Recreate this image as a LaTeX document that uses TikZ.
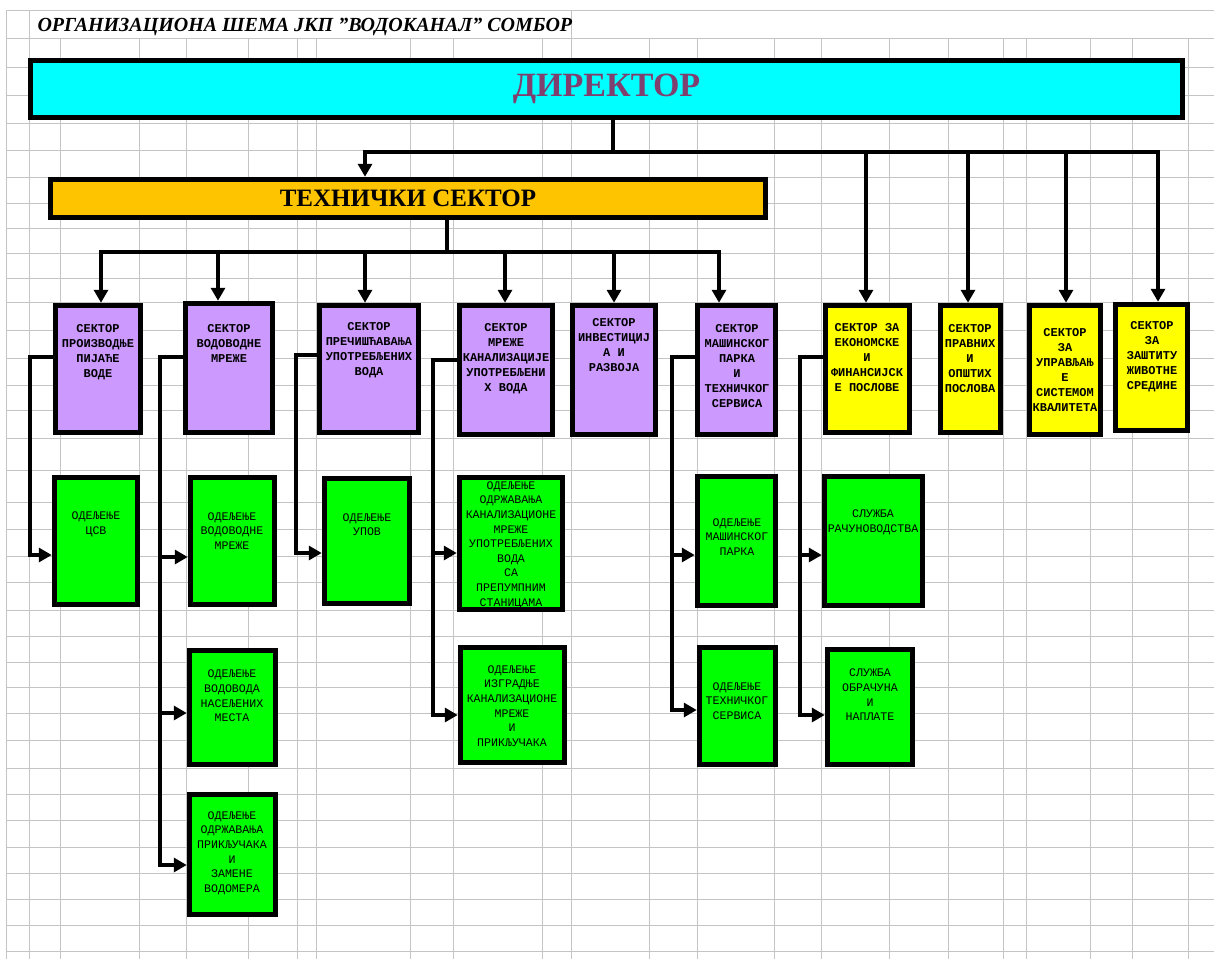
\documentclass[tikz,border=0pt]{standalone}
\usepackage{fontspec}
\setmainfont{Liberation Serif}
\newfontfamily\boxfont{Liberation Mono}
\usetikzlibrary{arrows.meta}
\definecolor{dircyan}{HTML}{00FFFF}
\definecolor{dirtext}{HTML}{80406F}
\definecolor{techorange}{HTML}{FFC400}
\definecolor{seclilac}{HTML}{CC99FF}
\definecolor{secyellow}{HTML}{FFFF00}
\definecolor{deptgreen}{HTML}{00FF00}
\definecolor{gridgray}{HTML}{C4C4C4}
\begin{document}
\begin{tikzpicture}[x=1pt,y=-1pt,
  gridline/.style={draw=gridgray,line width=0.9pt},
  box/.style={rectangle,draw=black,line width=5.5pt,inner sep=0pt},
  pbox/.style={box,fill=seclilac},
  ybox/.style={box,fill=secyellow},
  gbox/.style={box,fill=deptgreen},
  ptxt/.style={align=center,inner sep=0pt,font=\boxfont\bfseries\fontsize{12}{15}\selectfont},
  gtxt/.style={align=center,inner sep=0pt,font=\boxfont\fontsize{11.6}{14.6}\selectfont},
  link/.style={draw=black,line width=4.8pt},
  bus/.style={link,line cap=rect},
  >={Triangle[length=13pt,width=14pt]}]
\useasboundingbox (0,0) rectangle (1214,959);
\fill[white] (0,0) rectangle (1214,959);
% spreadsheet grid
\foreach \x in {60,139,186,248,297,316,410,453,542,649,697,774,821,889,948,1003,1026,1090,1132,1188}
  \draw[gridline] (\x,38) -- (\x,959);
\foreach \x in {6,29,571}
  \draw[gridline] (\x,10) -- (\x,959);
\foreach \y in {10,38,67,95,123,150,177,203,228,253,278,302,330,358,385,410,438,470,502,529,556,582,610,636,662,687,713,740,768,794,820,847,873,899,925,951}
  \draw[gridline] (6,\y) -- (1214,\y);

\node[anchor=west,font=\bfseries\itshape\fontsize{20}{24}\selectfont] (title) at (34,27) {ОРГАНИЗАЦИОНА ШЕМА ЈКП \char34 ВОДОКАНАЛ\char34{} СОМБОР};

\node[box,fill=dircyan,minimum width=1152,minimum height=57,text=dirtext,font=\bfseries\fontsize{34}{40}\selectfont] (dir) at (606.5,89) {ДИРЕКТОР};
\node[box,fill=techorange,minimum width=715,minimum height=38,font=\bfseries\fontsize{25}{30}\selectfont] (tech) at (408,198.5) {ТЕХНИЧКИ СЕКТОР};

% sectors
\node[pbox,minimum width=85,minimum height=127] (s1) at (98,369) {};
\node[pbox,minimum width=87,minimum height=129] (s2) at (229,368) {};
\node[pbox,minimum width=99,minimum height=127] (s3) at (369,369) {};
\node[pbox,minimum width=93,minimum height=129] (s4) at (506,370) {};
\node[pbox,minimum width=83,minimum height=129] (s5) at (614,370) {};
\node[pbox,minimum width=78,minimum height=129] (s6) at (736.5,370) {};
\node[ybox,minimum width=84,minimum height=127] (y1) at (867.5,369) {};
\node[ybox,minimum width=60,minimum height=127] (y2) at (970.5,369) {};
\node[ybox,minimum width=71,minimum height=129] (y3) at (1065,370) {};
\node[ybox,minimum width=72,minimum height=126] (y4) at (1151.5,367.5) {};

\node[ptxt] (s1t) at (98,352.5) {СЕКТОР\\ПРОИЗВОДЊЕ\\ПИЈАЋЕ\\ВОДЕ};
\node[ptxt] (s2t) at (229,343) {СЕКТОР\\ВОДОВОДНЕ\\МРЕЖЕ};
\node[ptxt] (s3t) at (369,350) {СЕКТОР\\ПРЕЧИШЋАВАЊА\\УПОТРЕБЉЕНИХ\\ВОДА};
\node[ptxt] (s4t) at (506,359) {СЕКТОР\\МРЕЖЕ\\КАНАЛИЗАЦИЈЕ\\УПОТРЕБЉЕНИ\\Х ВОДА};
\node[ptxt] (s5t) at (614,345) {СЕКТОР\\ИНВЕСТИЦИЈ\\А И\\РАЗВОЈА};
\node[ptxt] (s6t) at (737,366) {СЕКТОР\\МАШИНСКОГ\\ПАРКА\\И\\ТЕХНИЧКОГ\\СЕРВИСА};
\node[ptxt] (y1t) at (867,358) {СЕКТОР ЗА\\ЕКОНОМСКЕ\\И\\ФИНАНСИЈСК\\Е ПОСЛОВЕ};
\node[ptxt] (y2t) at (970,359) {СЕКТОР\\ПРАВНИХ\\И\\ОПШТИХ\\ПОСЛОВА};
\node[ptxt] (y3t) at (1065,370) {СЕКТОР\\ЗА\\УПРАВЉАЊ\\Е\\СИСТЕМОМ\\КВАЛИТЕТА};
\node[ptxt] (y4t) at (1152,357) {СЕКТОР\\ЗА\\ЗАШТИТУ\\ЖИВОТНЕ\\СРЕДИНЕ};

% departments
\node[gbox,minimum width=83,minimum height=127] (g1) at (96,541) {};
\node[gbox,minimum width=84,minimum height=127] (g2) at (232.5,541) {};
\node[gbox,minimum width=85,minimum height=125] (g3) at (367,541) {};
\node[gbox,minimum width=86,minimum height=114] (g4) at (232.5,707.5) {};
\node[gbox,minimum width=86,minimum height=120] (g5) at (232.5,854.5) {};
\node[gbox,minimum width=103,minimum height=132] (g6) at (511,543.5) {};
\node[gbox,minimum width=104,minimum height=115] (g7) at (512.5,705) {};
\node[gbox,minimum width=78,minimum height=129] (g8) at (736.5,541) {};
\node[gbox,minimum width=76,minimum height=117] (g9) at (737.5,706) {};
\node[gbox,minimum width=98,minimum height=129] (g10) at (873.5,541) {};
\node[gbox,minimum width=85,minimum height=115] (g11) at (870,707) {};

\node[gtxt] (g1t) at (96,524.5) {ОДЕЉЕЊЕ\\ЦСВ};
\node[gtxt] (g2t) at (232,531) {ОДЕЉЕЊЕ\\ВОДОВОДНЕ\\МРЕЖЕ};
\node[gtxt] (g3t) at (367,524.5) {ОДЕЉЕЊЕ\\УПОВ};
\node[gtxt] (g4t) at (232,696) {ОДЕЉЕЊЕ\\ВОДОВОДА\\НАСЕЉЕНИХ\\МЕСТА};
\node[gtxt] (g5t) at (232,853) {ОДЕЉЕЊЕ\\ОДРЖАВАЊА\\ПРИКЉУЧАКА\\И\\ЗАМЕНЕ\\ВОДОМЕРА};
\node[gtxt] (g6t) at (511,545) {ОДЕЉЕЊЕ\\ОДРЖАВАЊА\\КАНАЛИЗАЦИОНЕ\\МРЕЖЕ\\УПОТРЕБЉЕНИХ\\ВОДА\\СА\\ПРЕПУМПНИМ\\СТАНИЦАМА};
\node[gtxt] (g7t) at (512,706) {ОДЕЉЕЊЕ\\ИЗГРАДЊЕ\\КАНАЛИЗАЦИОНЕ\\МРЕЖЕ\\И\\ПРИКЉУЧАКА};
\node[gtxt] (g8t) at (737,537) {ОДЕЉЕЊЕ\\МАШИНСКОГ\\ПАРКА};
\node[gtxt] (g9t) at (737,701) {ОДЕЉЕЊЕ\\ТЕХНИЧКОГ\\СЕРВИСА};
\node[gtxt] (g10t) at (873,522) {СЛУЖБА\\РАЧУНОВОДСТВА};
\node[gtxt] (g11t) at (870,695) {СЛУЖБА\\ОБРАЧУНА\\И\\НАПЛАТЕ};

% director -> sectors
\coordinate (dj) at (613,152);
\coordinate (d-l) at (365,152);
\coordinate (d-r) at (1158,152);
\draw[link] (dir.south -| dj) -- (dj);
\draw[bus] (d-l) -- (d-r);
\draw[link,->] (d-l) -- (d-l |- tech.north);
\foreach \x/\n in {866/y1,968/y2,1066/y3,1158/y4}{
  \coordinate (d-\n) at (\x,152);
  \draw[link,->] (d-\n) -- (d-\n |- \n.north);
}

% technical sector -> sectors
\coordinate (tj) at (447,252);
\coordinate (t-l) at (101,252);
\coordinate (t-r) at (719,252);
\draw[link] (tech.south -| tj) -- (tj);
\draw[bus] (t-l) -- (t-r);
\foreach \x/\n in {101/s1,218/s2,365/s3,505/s4,614/s5,719/s6}{
  \coordinate (t-\n) at (\x,252);
  \draw[link,->] (t-\n) -- (t-\n |- \n.north);
}

% sectors -> departments
\coordinate (e1) at (30,0);
\coordinate (e2) at (160,0);
\coordinate (e3) at (296,0);
\coordinate (e4) at (433,0);
\coordinate (e6) at (672,0);
\coordinate (e7) at (800,0);
\coordinate (o-s1) at ([yshift=12pt]s1.west);
\coordinate (o-s2) at ([yshift=11pt]s2.west);
\coordinate (o-s3) at ([yshift=14pt]s3.west);
\coordinate (o-s4) at ([yshift=10pt]s4.west);
\coordinate (o-s6) at ([yshift=13pt]s6.west);
\coordinate (o-y1) at ([yshift=12pt]y1.west);
\coordinate (i-g1) at ([yshift=-14pt]g1.west);
\coordinate (i-g2) at ([yshift=-16pt]g2.west);
\coordinate (i-g3) at ([yshift=-12pt]g3.west);
\coordinate (i-g4) at ([yshift=-5.5pt]g4.west);
\coordinate (i-g5) at ([yshift=-10.5pt]g5.west);
\coordinate (i-g6) at ([yshift=-9.5pt]g6.west);
\coordinate (i-g7) at ([yshift=-10pt]g7.west);
\coordinate (i-g8) at ([yshift=-14pt]g8.west);
\coordinate (i-g9) at ([yshift=-4pt]g9.west);
\coordinate (i-g10) at ([yshift=-14pt]g10.west);
\coordinate (i-g11) at ([yshift=-8pt]g11.west);
\foreach \s/\e/\g in {s1/e1/g1,s2/e2/g2,s2/e2/g4,s2/e2/g5,s3/e3/g3,s4/e4/g6,s4/e4/g7,s6/e6/g8,s6/e6/g9,y1/e7/g10,y1/e7/g11}
  \draw[link,->] (o-\s) -- (\e |- o-\s) -- (\e |- i-\g) -- (i-\g);
\end{tikzpicture}
\end{document}
